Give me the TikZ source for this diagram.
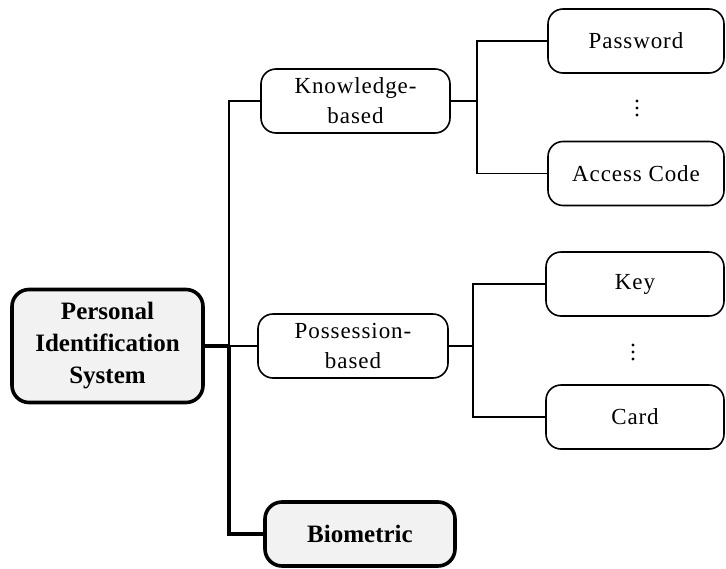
\documentclass[tikz,border=0pt]{standalone}
\usepackage{fontspec}
\setmainfont{Liberation Serif}
\definecolor{boxgray}{HTML}{F2F2F2}
\tikzset{
  px/.style={x=1pt,y=-1pt},
  leaf/.style={draw, line width=1.6pt, rounded corners=15pt, fill=white,
    inner sep=0pt, outer sep=0pt, align=center,
    font=\fontsize{23}{30}\selectfont\addfontfeature{LetterSpace=4}},
  main/.style={draw, line width=3.6pt, rounded corners=17pt, fill=boxgray,
    inner sep=0pt, outer sep=0pt, align=center,
    font=\fontsize{25}{32}\selectfont\bfseries},
  thin link/.style={line width=1.4pt},
  thick link/.style={line width=4pt},
  dot/.style={circle, fill=black, inner sep=0pt, minimum size=3.2pt},
}
\begin{document}
\begin{tikzpicture}[px]
  \useasboundingbox[fill=white] (0,0) rectangle (726,568);

  % boxes
  \node[main, minimum width=191pt, minimum height=113pt] (root) at (107.5,346)
    {Personal\\Identification\\System};
  \node[leaf, minimum width=189pt, minimum height=64pt] (know) at (355.5,101)
    {Knowledge-\\based};
  \node[leaf, minimum width=190pt, minimum height=64pt] (poss) at (353,346)
    {Possession-\\based};
  \node[main, minimum width=190pt, minimum height=64pt] (bio) at (360,534)
    {Biometric};

  \node[leaf, minimum width=176pt, minimum height=64pt] (pass) at (636,41) {Password};
  \node[leaf, minimum width=176pt, minimum height=64pt] (code) at (636,173.5) {Access Code};
  \node[leaf, minimum width=178pt, minimum height=64pt] (key) at (635,284) {Key};
  \node[leaf, minimum width=178pt, minimum height=64pt] (card) at (635,417) {Card};

  % vertical ellipses between leaves
  \node[dot] (d1) at (637,101) {};
  \node[dot] (d2) at (637,108) {};
  \node[dot] (d3) at (637,115) {};
  \node[dot] (d4) at (633,345) {};
  \node[dot] (d5) at (633,352) {};
  \node[dot] (d6) at (633,359) {};

  % junctions
  \coordinate (trunk) at (229,346);
  \coordinate (kj) at (477,101);
  \coordinate (pj) at (473,346);

  % connectors from the root
  \draw[thick link] (root.east) -- (trunk);
  \draw[thin link] (trunk) |- (know.west);
  \draw[thin link] (trunk) -- (poss.west);
  \draw[thick link] (trunk) |- (bio.west);

  % knowledge branch
  \draw[thin link] (know.east) -- (kj);
  \draw[thin link] (pass.west) -| (kj) |- (code.west);

  % possession branch
  \draw[thin link] (poss.east) -- (pj);
  \draw[thin link] (key.west) -| (pj) |- (card.west);
\end{tikzpicture}
\end{document}
